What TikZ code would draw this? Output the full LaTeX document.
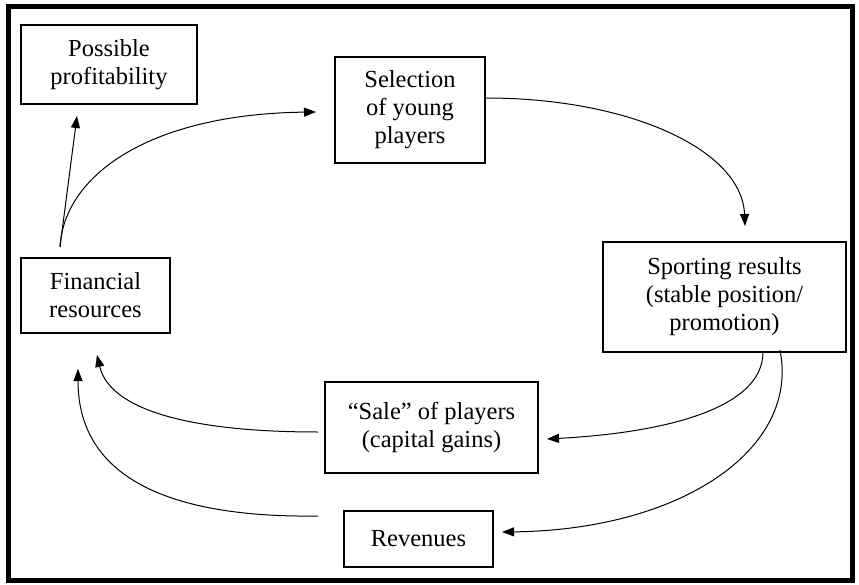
\documentclass[tikz,border=0pt]{standalone}
\usepackage{fontspec}
\setmainfont{Liberation Serif}
\usetikzlibrary{arrows.meta}
\begin{document}
\begin{tikzpicture}[x=1pt,y=-1pt,
  box/.style={draw, line width=1.3pt, align=center, inner sep=0pt,
    font=\fontsize{24.5}{28}\selectfont},
  flow/.style={line width=1pt, -{Triangle[length=12pt,width=9pt]}}]
\useasboundingbox (0,0) rectangle (859,585);
% outer frame
\draw[line width=5pt] (8,6.5) rectangle (852.5,580.5);

% boxes
\node[box, minimum width=176pt, minimum height=79pt]  (prof)  at (109,64.5) {Possible\\profitability};
\node[box, minimum width=150pt, minimum height=106pt] (sel)   at (410,110) {Selection\\of young\\players};
\node[box, minimum width=243pt, minimum height=110pt] (sport) at (724.5,297) {Sporting results\\(stable position/\\promotion)};
\node[box, minimum width=149pt, minimum height=75pt]  (fin)   at (95.5,295.5) {Financial\\resources};
\node[box, minimum width=213pt, minimum height=91pt]  (sale)  at (431.5,427.5) {“Sale” of players\\(capital gains)};
\node[box, minimum width=149pt, minimum height=56pt]  (rev)   at (418.5,539) {Revenues};

% free ends of the connectors
\coordinate (finout)   at (60,247);
\coordinate (profin)   at (77,116);
\coordinate (selin)    at (316,112);
\coordinate (sportin)  at (745,226);
\coordinate (sportA)   at (763,352);
\coordinate (sportB)   at (780,350);
\coordinate (salein)   at (547,439);
\coordinate (revin)    at (502,532);
\coordinate (saleout)  at (318,432);
\coordinate (revout)   at (318,516);
\coordinate (finin1)   at (97,355);
\coordinate (finin2)   at (78,369);

% connectors
\draw[flow] (finout) -- (profin);
\draw[flow] (finout) .. controls (64,175) and (150,114) .. (selin);
\draw[flow] (sel.east |- 0,98) .. controls (630,98) and (742,150) .. (sportin);
\draw[flow] (sportA) .. controls (763,410) and (660,433) .. (salein);
\draw[flow] (sportB) .. controls (800,450) and (680,530) .. (revin);
\draw[flow] (saleout) .. controls (190,432) and (110,410) .. (finin1);
\draw[flow] (revout) .. controls (170,518) and (78,478) .. (finin2);
\end{tikzpicture}
\end{document}
